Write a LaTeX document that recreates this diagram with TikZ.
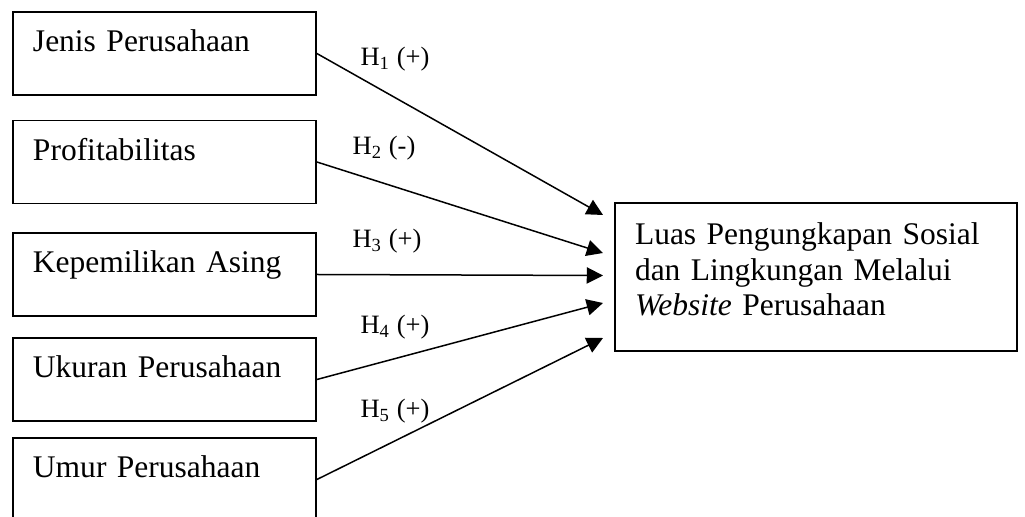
\documentclass[tikz,border=0pt]{standalone}
\usepackage{fontspec}
\setmainfont{Liberation Serif}
\usetikzlibrary{arrows.meta}

\tikzstyle{varbox} = [draw,line width=0.7pt,rectangle,text width=105.2pt,align=left,inner xsep=8pt,inner ysep=0pt,text height=16pt,text depth=17.2pt,font=\fontsize{12.6}{14.2}\selectfont]
\tikzstyle{outbox} = [draw,line width=0.7pt,rectangle,text width=144.8pt,align=left,inner xsep=8pt,inner ysep=0pt,text height=16.8pt,text depth=42.4pt,font=\fontsize{12.6}{14.2}\selectfont]
\tikzstyle{hyp} = [font=\fontsize{10.6}{12}\selectfont,inner sep=0pt]
\tikzstyle{arrowdecorate} = [-{Triangle[length=6.5pt,width=6.5pt]},line width=0.6pt]

\begin{document}
\begin{tikzpicture}[x=0.4pt,y=-0.4pt]
      \useasboundingbox (0,0) rectangle (1025,517);
      %variables
      \foreach \nodename/\y/\name in {
        jenis/53.5/Jenis Perusahaan,
        profit/162/Profitabilitas,
        asing/274.5/Kepemilikan Asing,
        ukuran/379.5/Ukuran Perusahaan,
        umur/479.5/Umur Perusahaan}
      {
        \node[varbox] (\nodename) at (164.5,\y) {\name};
      };
      \node[outbox] (luas) at (816,277) {Luas Pengungkapan Sosial\\dan Lingkungan Melalui\\\textit{Website} Perusahaan};

      %arrow ends
      \foreach \endname/\y in {t1/215, t2/253, t3/275.5, t4/303, t5/338}
      {
        \coordinate (\endname) at (603,\y);
      };

      %hypotheses
      \foreach \startnode/\endnode/\num/\x/\y/\sign in {
        jenis/t1/1/395/59.5/+, profit/t2/2/384/148.5/-, asing/t3/3/387/241/+,
        ukuran/t4/4/395/327.5/+, umur/t5/5/395/411.5/+}
      {
        \draw[arrowdecorate] (\startnode.east) -- (\endnode);
        \node[hyp] (h\num) at (\x,\y) {H\textsubscript{\num} (\sign)};
      };
    \end{tikzpicture}
\end{document}
